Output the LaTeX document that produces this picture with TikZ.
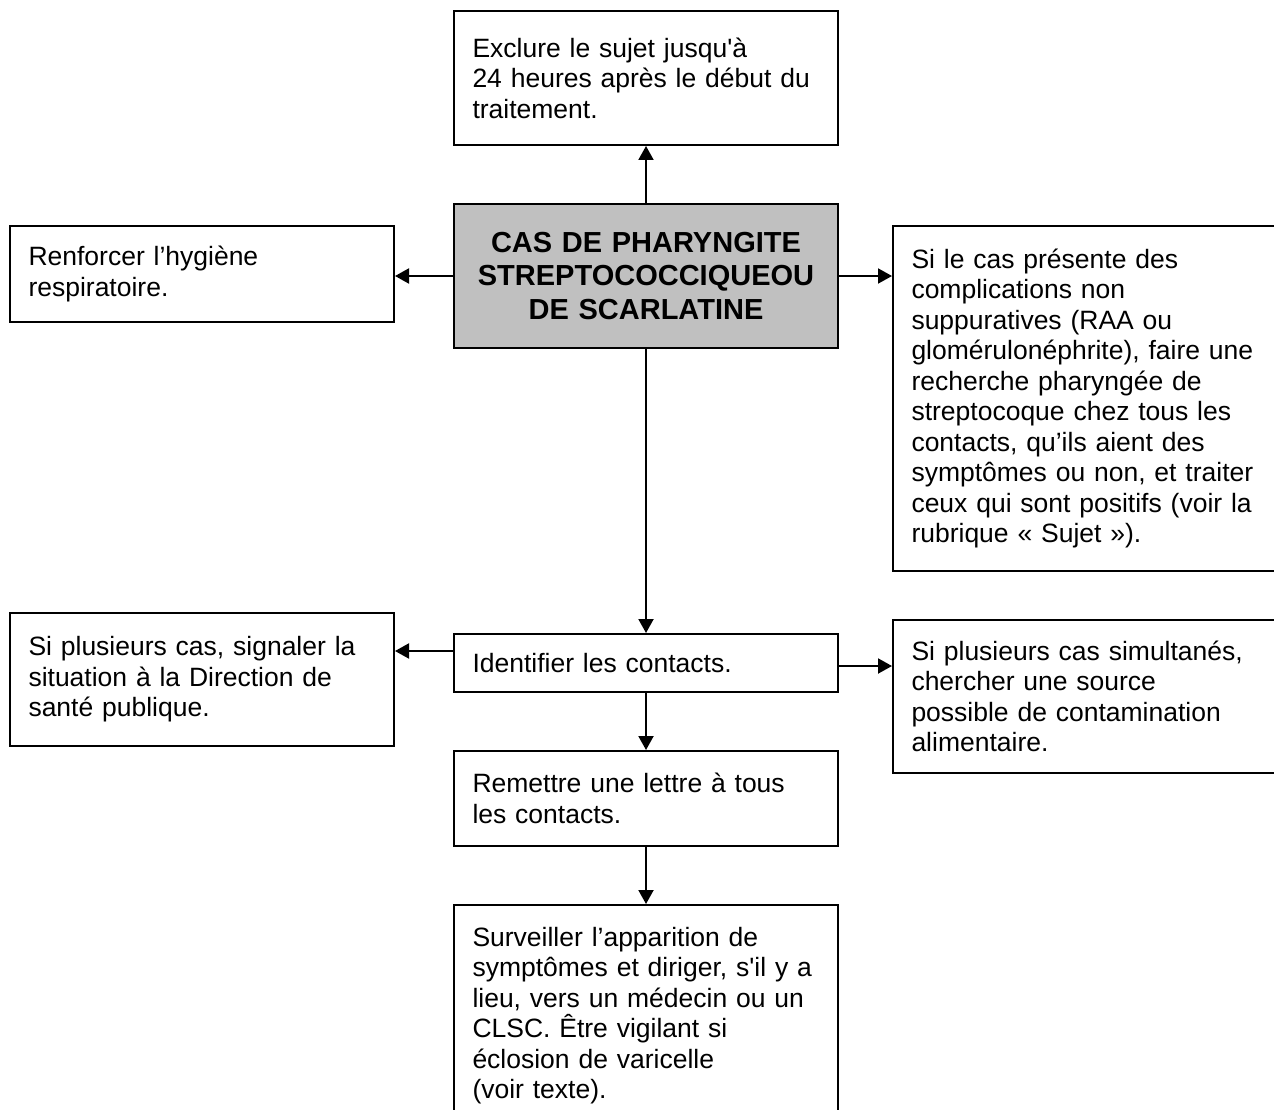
\documentclass[tikz,border=0pt]{standalone}
\usepackage{fontspec}
\setmainfont{Liberation Sans}[Ligatures=TeXOff]
\usetikzlibrary{arrows.meta}
\tikzset{
  box/.style={draw=black, line width=2pt, fill=white, anchor=north west,
    minimum width=384pt, text width=347pt, inner xsep=18.5pt, inner ysep=0pt,
    align=left, font=\fontsize{26.5pt}{30.5pt}\selectfont},
  mainbox/.style={box, align=center,
    font=\fontsize{29pt}{33.5pt}\selectfont\bfseries},
  arr/.style={line width=2pt, -{Triangle[length=14pt,width=15pt]}}
}
\definecolor{silverfill}{HTML}{C0C0C0}
\begin{document}
\begin{tikzpicture}[x=1pt,y=-1pt]
\useasboundingbox (0,0) rectangle (1274,1110);
\clip (0,0) rectangle (1274,1110);
\fill[white] (0,0) rectangle (1274,1110);

\node[box, minimum height=134pt] (top) at (453,10)
  {Exclure le sujet jusqu'à\\24 heures après le début du\\traitement.};
\node[mainbox, fill=silverfill, minimum height=144pt] (center) at (453,203)
  {CAS DE PHARYNGITE\\STREPTOCOCCIQUEOU\\DE SCARLATINE};
\node[box, minimum height=96pt] (left1) at (9,225)
  {Renforcer l’hygiène\\respiratoire.};
\node[box, minimum height=345pt] (right1) at (892,225)
  {Si le cas présente des\\complications non\\suppuratives (RAA ou\\glomérulonéphrite), faire une\\recherche pharyngée de\\streptocoque chez tous les\\contacts, qu’ils aient des\\symptômes ou non, et traiter\\ceux qui sont positifs (voir la\\rubrique « Sujet »).};
\node[box, minimum height=133pt] (left2) at (9,612)
  {Si plusieurs cas, signaler la\\situation à la Direction de\\santé publique.};
\node[box, minimum height=58pt] (ident) at (453,633)
  {Identifier les contacts.};
\node[box, minimum height=153pt] (right2) at (892,619)
  {Si plusieurs cas simultanés,\\chercher une source\\possible de contamination\\alimentaire.};
\node[box, minimum height=95pt] (remettre) at (453,750)
  {Remettre une lettre à tous\\les contacts.};
\node[box, minimum height=221pt] (surveil) at (453,904)
  {Surveiller l’apparition de\\symptômes et diriger, s'il y a\\lieu, vers un médecin ou un\\CLSC. Être vigilant si\\éclosion de varicelle\\(voir texte).};

\coordinate (iw) at ([yshift=12pt]ident.west);
\coordinate (ie) at ([yshift=-3pt]ident.east);

\draw[arr] (center.north) -- (top.south);
\draw[arr] (center.west) -- (left1.east |- center.west);
\draw[arr] (center.east) -- (right1.west |- center.east);
\draw[arr] (center.south) -- (ident.north);
\draw[arr] (iw) -- (left2.east |- iw);
\draw[arr] (ie) -- (right2.west |- ie);
\draw[arr] (ident.south) -- (remettre.north);
\draw[arr] (remettre.south) -- (surveil.north);
\end{tikzpicture}
\end{document}
